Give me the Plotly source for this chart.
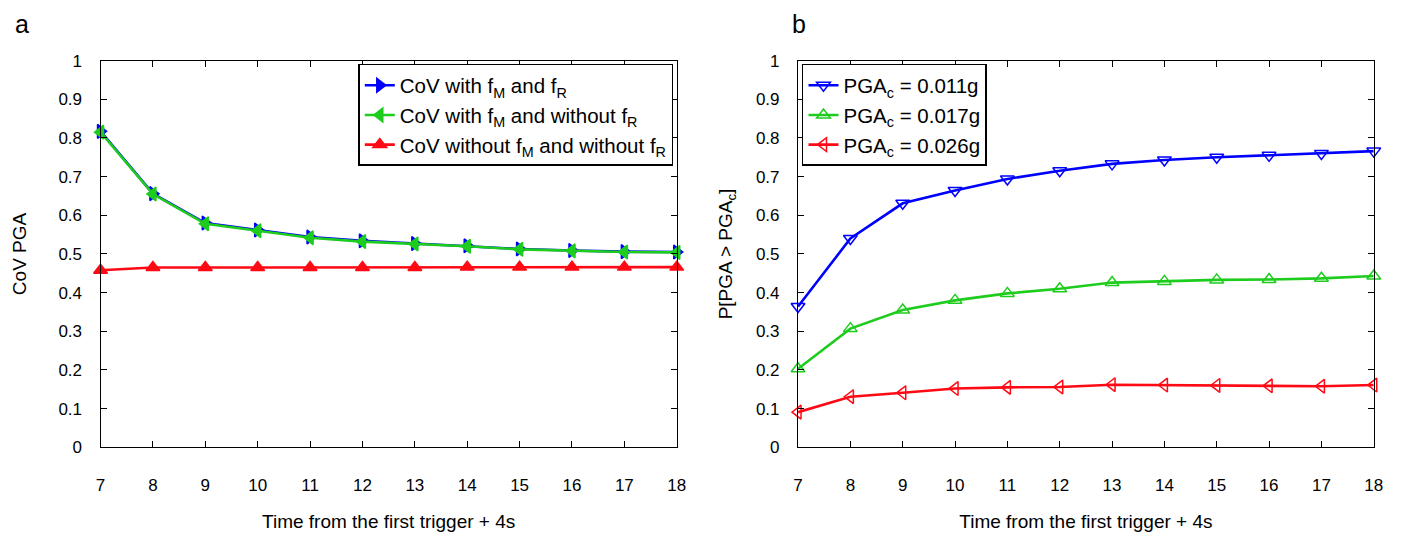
import plotly.graph_objects as go

t = [7, 8, 9, 10, 11, 12, 13, 14, 15, 16, 17, 18]

# Panel a: CoV of PGA
cov_fm_fr = [0.817, 0.656, 0.580, 0.562, 0.544, 0.534, 0.527, 0.521, 0.513, 0.509, 0.506, 0.505]
cov_fm_nofr = [0.815, 0.655, 0.578, 0.560, 0.542, 0.532, 0.526, 0.520, 0.512, 0.508, 0.505, 0.504]
cov_nofm_nofr = [0.458, 0.465, 0.465, 0.465, 0.465, 0.465, 0.465, 0.466, 0.466, 0.466, 0.466, 0.466]

# Panel b: P[PGA > PGAc]
p_011 = [0.364, 0.540, 0.631, 0.664, 0.694, 0.715, 0.733, 0.743, 0.750, 0.755, 0.760, 0.766]
p_017 = [0.203, 0.307, 0.355, 0.380, 0.398, 0.410, 0.426, 0.429, 0.433, 0.434, 0.437, 0.443]
p_026 = [0.091, 0.131, 0.141, 0.152, 0.155, 0.156, 0.162, 0.161, 0.160, 0.159, 0.158, 0.161]

xticks = list(range(7, 19))
yticks = [i / 10 for i in range(11)]
ytick_text = ["0", "0.1", "0.2", "0.3", "0.4", "0.5", "0.6", "0.7", "0.8", "0.9", "1"]

BLUE = "#0000ff"
GREEN = "#1ecc1e"
RED = "#ff0a14"
FONT = "Liberation Sans"
W, H = 1408, 534

fig = go.Figure()

def add(x, y, color, symbol, name, xa, ya, legend, size=12, lw=2.6):
    fig.add_trace(go.Scatter(
        x=x, y=y, mode="lines+markers", name=name,
        line=dict(color=color, width=lw),
        marker=dict(symbol=symbol, size=size, color=color,
                    line=dict(color=color, width=1.5)),
        xaxis=xa, yaxis=ya, legend=legend, cliponaxis=False,
    ))

add(t, cov_fm_fr, BLUE, "triangle-right", "CoV with f<sub>M</sub> and f<sub>R</sub>", "x", "y", "legend")
add(t, cov_fm_nofr, GREEN, "triangle-left", "CoV with f<sub>M</sub> and without f<sub>R</sub>", "x", "y", "legend")
add(t, cov_nofm_nofr, RED, "triangle-up", "CoV without f<sub>M</sub> and without f<sub>R</sub>", "x", "y", "legend")

add(t, p_011, BLUE, "triangle-down-open", "PGA<sub>c</sub> = 0.011g", "x2", "y2", "legend2")
add(t, p_017, GREEN, "triangle-up-open", "PGA<sub>c</sub> = 0.017g", "x2", "y2", "legend2")
add(t, p_026, RED, "triangle-left-open", "PGA<sub>c</sub> = 0.026g", "x2", "y2", "legend2")

yb, yt = (H - 454.5) / H, (H - 53.5) / H

axis_common = dict(
    showline=True, linecolor="black", linewidth=1.2, mirror="ticks",
    ticks="inside", ticklen=6, tickcolor="black", showgrid=False, zeroline=False,
    tickfont=dict(family=FONT, size=17, color="black"),
)
xtitle = dict(text="Time from the first trigger + 4s", font=dict(family=FONT, size=19), standoff=20)

fig.update_layout(
    width=W, height=H,
    margin=dict(l=0, r=0, t=0, b=0),
    paper_bgcolor="white", plot_bgcolor="white",
    font=dict(family=FONT, size=17, color="black"),
    xaxis=dict(domain=[96.5 / W, 678.5 / W], range=[7, 18], tickvals=xticks,
               ticklabelstandoff=22, title=xtitle, **axis_common),
    yaxis=dict(domain=[yb, yt], range=[0, 1], tickvals=yticks, ticktext=ytick_text,
               ticklabelstandoff=14,
               title=dict(text="CoV PGA", font=dict(family=FONT, size=19), standoff=26),
               **axis_common),
    xaxis2=dict(domain=[801 / W, 1382.5 / W], range=[7, 18], tickvals=xticks,
                anchor="y2", ticklabelstandoff=22, title=xtitle, **axis_common),
    yaxis2=dict(domain=[yb, yt], range=[0, 1], tickvals=yticks, ticktext=ytick_text,
                anchor="x2", ticklabelstandoff=14,
                title=dict(text="P[PGA &gt; PGA<sub>c</sub>]", font=dict(family=FONT, size=19), standoff=18),
                **axis_common),
    legend=dict(x=675 / W, y=(H - 57) / H, xanchor="right", yanchor="top",
                bordercolor="black", borderwidth=1.5, bgcolor="white",
                font=dict(family=FONT, size=20.5, color="black"),
                itemwidth=30, tracegroupgap=0),
    legend2=dict(x=805 / W, y=(H - 57) / H, xanchor="left", yanchor="top",
                 bordercolor="black", borderwidth=1.5, bgcolor="white",
                 font=dict(family=FONT, size=20.5, color="black"),
                 itemwidth=30, tracegroupgap=0),
    showlegend=True,
    annotations=[
        dict(text="a", x=8 / W, y=(H - 16) / H, xref="paper", yref="paper",
             xanchor="left", yanchor="middle", showarrow=False,
             font=dict(family=FONT, size=25, color="black")),
        dict(text="b", x=793 / W, y=(H - 16) / H, xref="paper", yref="paper",
             xanchor="left", yanchor="middle", showarrow=False,
             font=dict(family=FONT, size=25, color="black")),
    ],
)

fig.write_html("out.html")
